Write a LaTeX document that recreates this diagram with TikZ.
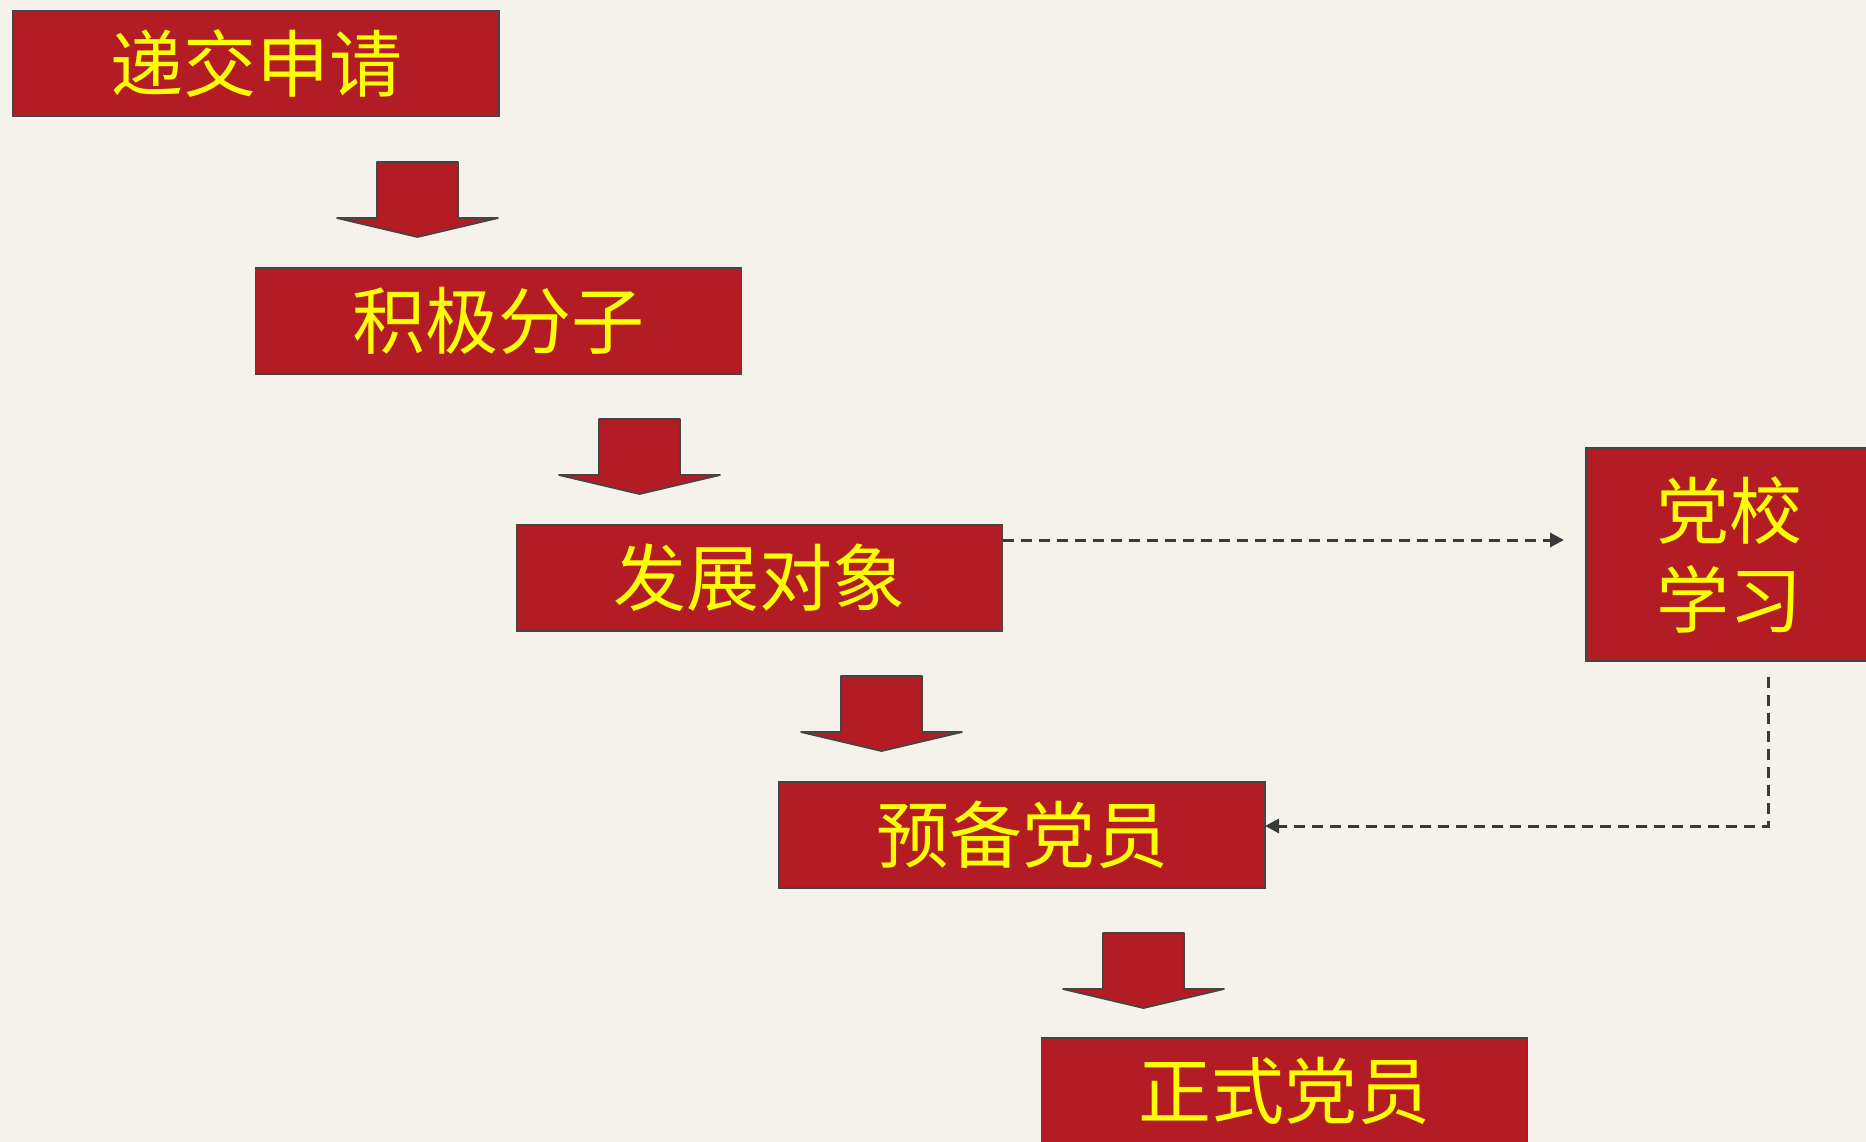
\documentclass[tikz,border=0pt]{standalone}
\usepackage{fontspec}
\newfontfamily\cjk{Noto Sans CJK SC}
\usetikzlibrary{arrows.meta,calc}
\definecolor{bgpaper}{HTML}{F5F2EC}
\definecolor{boxred}{HTML}{B31B25}
\definecolor{edgegray}{HTML}{454545}
\definecolor{dashgray}{HTML}{3A3A3A}
\definecolor{txtyellow}{HTML}{FFFF00}
\tikzset{
  stagebox/.style={draw=edgegray, line width=1.8pt, fill=boxred, text=txtyellow,
    minimum width=486pt, minimum height=106pt, inner sep=0pt, outer sep=0pt,
    font=\cjk\fontsize{73}{89}\selectfont},
  schoolbox/.style={stagebox, minimum width=286pt, minimum height=213pt, align=center},
  dashline/.style={draw=dashgray, line width=3pt, dash pattern=on 11pt off 7pt,
    -{Triangle[length=14pt,width=14pt]}},
  pics/blockarrow/.style={code={
    \draw[draw=edgegray, line width=1.8pt, fill=boxred, line join=round]
      (-40.5,0) -- (40.5,0) -- (40.5,56) -- (80.5,56) -- (0,75) -- (-80.5,56) -- (-40.5,56) -- cycle;
  }}
}
\begin{document}
\begin{tikzpicture}[x=1pt,y=-1pt]
\useasboundingbox (0,0) rectangle (1866,1142);
\clip (0,0) rectangle (1866,1142);
\fill[bgpaper] (0,0) rectangle (1866,1142);

\node[stagebox] (b1) at (256,63.5) {递交申请};
\node[stagebox] (b2) at (498.5,321) {积极分子};
\node[stagebox] (b3) at (759.5,578) {发展对象};
\node[stagebox] (b4) at (1022,835) {预备党员};
\node[stagebox] (b5) at (1284.5,1091) {正式党员};
\node[schoolbox] (school) at (1729,554.5) {党校\\学习};

\pic at (417.5,162) {blockarrow};
\pic at (639.5,419) {blockarrow};
\pic at (881.5,676) {blockarrow};
\pic at (1143.5,933) {blockarrow};

\draw[dashline, shorten >=22pt] ([yshift=-15pt]b3.north east) coordinate (s1) -- (s1 -| school.west);
\draw[dashline, shorten <=16pt] ([xshift=39pt]school.south) |- ([yshift=9pt]b4.east);
\end{tikzpicture}
\end{document}
